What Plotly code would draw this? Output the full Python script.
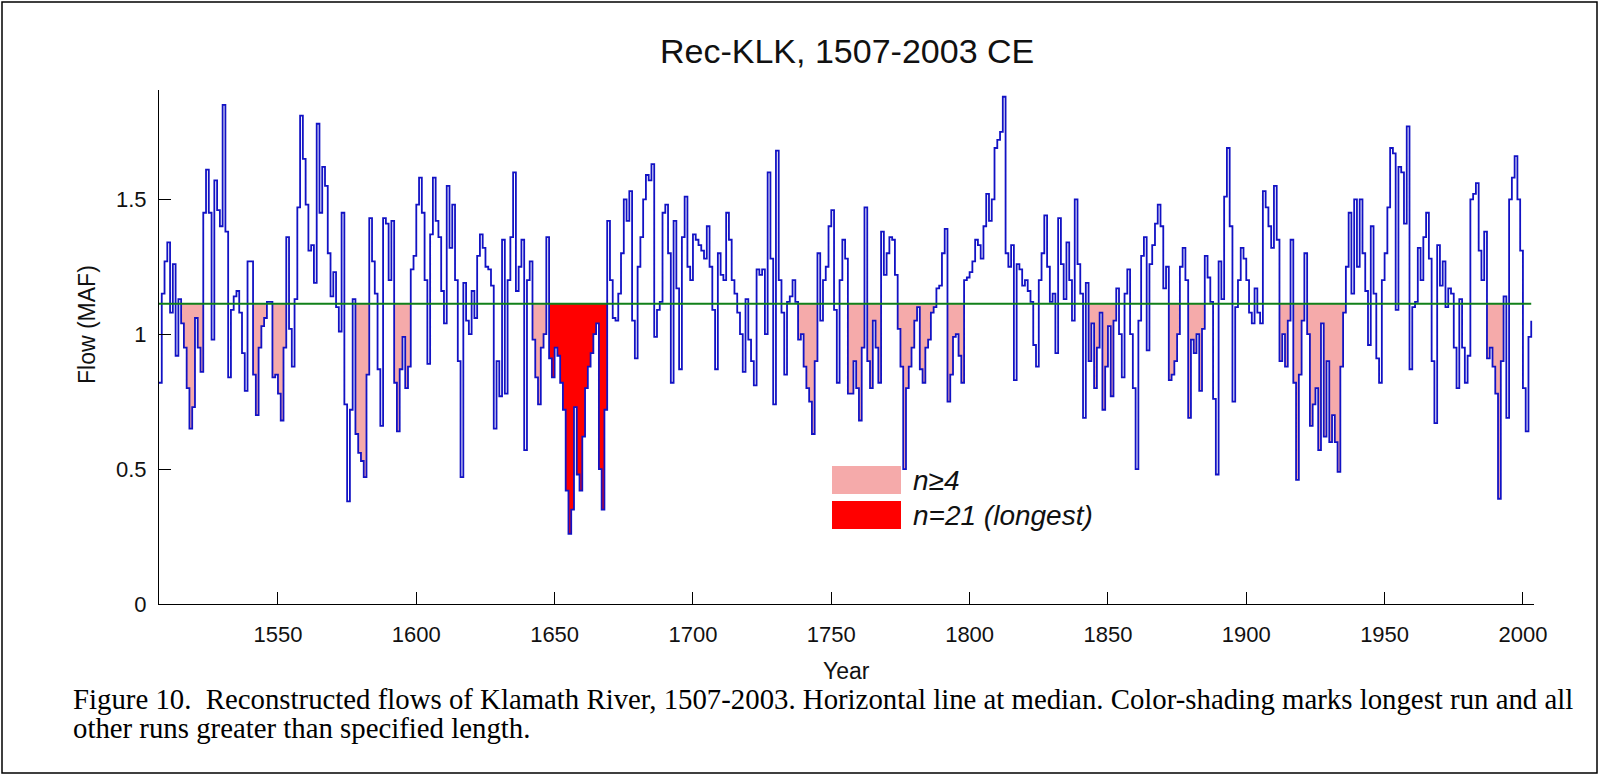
import plotly.graph_objects as go

FIRST_YEAR = 1507
FLOW = [
    # 1507-1509
    0.82, 1.15, 1.27,
    # 1510s
    1.34, 1.08, 1.26, 0.92, 1.13, 1.04, 0.95, 0.80, 0.65, 0.73,
    # 1520s
    1.06, 0.95, 0.86, 1.45, 1.61, 1.45, 0.98, 1.57, 1.46, 1.40,
    # 1530s
    1.85, 1.38, 0.84, 1.09, 1.14, 1.16, 1.08, 0.93, 0.79, 1.27,
    # 1540s
    1.27, 0.85, 0.70, 0.95, 1.03, 1.06, 1.12, 1.12, 0.84, 0.85,
    # 1550s
    0.78, 0.68, 0.95, 1.36, 1.02, 0.88, 1.13, 1.47, 1.81, 1.65,
    # 1560s
    1.48, 1.31, 1.33, 1.19, 1.78, 1.45, 1.62, 1.55, 1.30, 1.14,
    # 1570s
    1.23, 1.10, 1.01, 1.45, 0.74, 0.38, 0.72, 1.13, 0.63, 0.56,
    # 1580s
    0.53, 0.47, 0.85, 1.43, 1.27, 1.15, 0.87, 0.66, 1.43, 1.41,
    # 1590s
    1.20, 1.42, 0.82, 0.64, 0.87, 0.99, 0.80, 0.88, 1.24, 1.29,
    # 1600s
    1.48, 1.58, 1.45, 1.20, 0.89, 1.37, 1.58, 1.42, 1.36, 1.16,
    # 1610s
    1.04, 1.55, 1.32, 1.48, 1.20, 0.90, 0.47, 1.19, 1.05, 1.00,
    # 1620s
    1.16, 1.06, 1.29, 1.37, 1.32, 1.25, 1.24, 1.18, 0.65, 0.90,
    # 1630s
    0.77, 1.35, 0.78, 1.20, 1.36, 1.60, 1.16, 1.25, 1.35, 0.57,
    # 1640s
    1.20, 1.27, 0.98, 0.84, 0.74, 0.95, 1.00, 1.36, 0.91, 0.84,
    # 1650s
    0.95, 0.92, 0.82, 0.72, 0.42, 0.26, 0.35, 0.73, 0.48, 0.42,
    # 1660s
    0.62, 0.80, 0.88, 0.93, 1.00, 1.04, 0.50, 0.35, 0.72, 1.42,
    # 1670s
    1.20, 1.06, 1.05, 1.15, 1.30, 1.50, 1.42, 1.53, 1.05, 0.91,
    # 1680s
    1.25, 1.36, 1.50, 1.59, 1.57, 1.63, 0.99, 1.09, 1.12, 1.45,
    # 1690s
    1.48, 1.30, 0.82, 1.42, 1.17, 0.87, 1.36, 1.51, 1.25, 1.20,
    # 1700s
    1.37, 1.35, 1.33, 1.31, 1.28, 1.40, 1.25, 1.09, 0.87, 1.30,
    # 1710s
    1.22, 1.20, 1.45, 1.35, 1.20, 1.15, 1.08, 1.00, 0.86, 1.13,
    # 1720s
    0.98, 0.90, 0.81, 1.24, 1.22, 1.24, 1.00, 1.60, 1.28, 0.74,
    # 1730s
    1.68, 1.20, 1.08, 0.85, 1.12, 1.14, 1.20, 1.12, 0.98, 1.00,
    # 1740s
    0.88, 0.80, 0.75, 0.63, 0.90, 1.30, 1.05, 1.20, 1.25, 1.40,
    # 1750s
    1.46, 1.09, 0.82, 1.20, 1.35, 1.28, 0.78, 0.78, 0.90, 0.80,
    # 1760s
    0.68, 0.95, 1.47, 0.90, 0.80, 1.05, 0.95, 0.82, 1.38, 1.22,
    # 1770s
    1.30, 1.36, 1.35, 1.22, 1.02, 0.88, 0.50, 0.80, 0.88, 0.95,
    # 1780s
    1.05, 1.10, 0.87, 0.82, 0.95, 0.98, 1.08, 1.10, 1.17, 1.18,
    # 1790s
    1.30, 1.39, 0.75, 0.85, 0.99, 1.00, 0.92, 0.82, 1.20, 1.21,
    # 1800s
    1.23, 1.27, 1.35, 1.33, 1.28, 1.40, 1.52, 1.42, 1.50, 1.69,
    # 1810s
    1.72, 1.75, 1.88, 1.30, 1.25, 1.33, 0.83, 1.26, 1.24, 1.18,
    # 1820s
    1.20, 1.16, 1.12, 0.96, 0.88, 1.20, 1.30, 1.44, 1.25, 1.12,
    # 1830s
    1.15, 0.93, 1.43, 1.26, 1.13, 1.34, 1.20, 1.05, 1.50, 1.26,
    # 1840s
    1.15, 0.69, 1.19, 0.90, 1.04, 0.80, 0.95, 1.08, 0.72, 0.88,
    # 1850s
    1.03, 0.77, 1.05, 1.17, 1.00, 0.84, 1.15, 1.24, 1.00, 0.80,
    # 1860s
    0.50, 1.05, 1.29, 1.36, 0.94, 1.26, 1.33, 1.41, 1.48, 1.40,
    # 1870s
    1.17, 1.25, 0.83, 0.85, 0.90, 1.00, 1.25, 1.32, 1.20, 0.69,
    # 1880s
    0.98, 0.93, 1.00, 0.79, 1.02, 1.29, 1.21, 1.12, 0.76, 0.48,
    # 1890s
    1.27, 1.13, 1.51, 1.69, 1.40, 0.75, 1.10, 1.20, 1.32, 1.28,
    # 1900s
    1.20, 1.08, 1.04, 1.17, 1.08, 1.04, 1.53, 1.47, 1.40, 1.32,
    # 1910s
    1.55, 1.35, 0.90, 1.00, 0.88, 1.05, 1.35, 0.82, 0.46, 0.85,
    # 1920s
    1.05, 1.30, 1.00, 0.66, 0.74, 0.80, 0.57, 1.04, 0.62, 0.90,
    # 1930s
    0.60, 0.70, 0.60, 0.49, 0.88, 1.08, 1.25, 1.45, 1.15, 1.50,
    # 1940s
    1.25, 1.50, 1.30, 1.16, 0.96, 1.40, 1.15, 0.91, 0.82, 1.20,
    # 1950s
    1.30, 1.47, 1.69, 1.67, 1.09, 1.62, 1.60, 1.41, 1.77, 0.87,
    # 1960s
    1.10, 1.12, 1.32, 1.20, 1.36, 1.45, 1.28, 0.90, 0.67, 1.33,
    # 1970s
    1.18, 1.27, 1.10, 1.17, 1.15, 0.95, 0.80, 1.13, 0.95, 0.82,
    # 1980s
    0.92, 1.50, 1.52, 1.56, 1.31, 1.20, 1.38, 0.91, 0.95, 0.88,
    # 1990s
    0.78, 0.39, 0.90, 1.14, 0.69, 1.50, 1.58, 1.66, 1.50, 1.31,
    # 2000s
    0.80, 0.64, 0.99, 1.05,
]
YEARS = list(range(FIRST_YEAR, FIRST_YEAR + len(FLOW)))
assert YEARS[-1] == 2003, YEARS[-1]

MEDIAN = 1.113

# runs below the median (>= 4 years) and the longest run
RUN_START = [1515, 1541, 1548, 1578, 1592, 1642, 1738, 1756, 1763, 1774,
             1792, 1843, 1872, 1879, 1912, 1917, 1922, 1987]
RUN_END = [1522, 1545, 1552, 1582, 1597, 1646, 1744, 1761, 1767, 1787,
           1797, 1852, 1875, 1884, 1915, 1920, 1935, 1992]
LONGEST_START, LONGEST_END = 1648, 1668

X_TICKS = [1550, 1600, 1650, 1700, 1750, 1800, 1850, 1900, 1950, 2000]
Y_TICKS = [0, 0.5, 1, 1.5]
Y_TICK_TEXT = ["0", "0.5", "1", "1.5"]

PINK = "#F5AAAA"
RED = "#FF0000"
BLUE = "#1212C4"
GREEN = "#11801A"

fig = go.Figure()


def run_polygon(s, e):
    xs, ys = [s], [MEDIAN]
    for t in range(s, e + 1):
        v = FLOW[t - FIRST_YEAR]
        xs += [t, t + 1]
        ys += [v, v]
    xs += [e + 1, s]
    ys += [MEDIAN, MEDIAN]
    return xs, ys


for s, e in zip(RUN_START, RUN_END):
    xs, ys = run_polygon(s, e)
    fig.add_trace(go.Scatter(x=xs, y=ys, mode="lines", fill="toself",
                             fillcolor=PINK, line=dict(width=0),
                             hoverinfo="skip", showlegend=False))
xs, ys = run_polygon(LONGEST_START, LONGEST_END)
fig.add_trace(go.Scatter(x=xs, y=ys, mode="lines", fill="toself",
                         fillcolor=RED, line=dict(width=0),
                         hoverinfo="skip", showlegend=False))

fig.add_trace(go.Scatter(x=YEARS, y=FLOW, mode="lines", line_shape="hv",
                         line=dict(color=BLUE, width=1.8), showlegend=False))
fig.add_trace(go.Scatter(x=[YEARS[0], YEARS[-1]], y=[MEDIAN, MEDIAN],
                         mode="lines", line=dict(color=GREEN, width=2),
                         showlegend=False))

# geometry (pixels)
W, H = 1600, 776
L, R, T, B = 159, 1534, 90, 604
pw, ph = R - L, B - T


def px(fx):
    return (fx - L) / pw


def py(fy):
    return (B - fy) / ph


SANS = "Liberation Sans, Arial, sans-serif"
AX_FONT = dict(family=SANS, size=22, color="#111")

fig.update_layout(
    width=W, height=H,
    margin=dict(l=L, r=W - R, t=T, b=H - B),
    paper_bgcolor="white", plot_bgcolor="white",
    showlegend=False,
    xaxis=dict(range=[1507, 2004], tickvals=X_TICKS, ticks="inside",
               ticklen=12, tickwidth=1, tickcolor="black", showline=True,
               linecolor="black", linewidth=1, showgrid=False, zeroline=False,
               tickfont=AX_FONT, ticklabelstandoff=11),
    yaxis=dict(range=[0, 1.905], tickvals=Y_TICKS, ticktext=Y_TICK_TEXT,
               ticks="inside", ticklen=12, tickwidth=1, tickcolor="black",
               showline=True, linecolor="black", linewidth=1, showgrid=False,
               zeroline=False, tickfont=AX_FONT, ticklabelstandoff=7),
)

ann = []
ann.append(dict(text="Rec-KLK, 1507-2003 CE", x=0.5, y=py(51), xref="paper",
                yref="paper", showarrow=False, xanchor="center", yanchor="middle",
                font=dict(family=SANS, size=34, color="#111")))
ann.append(dict(text="Year", x=0.5, y=py(671), xref="paper", yref="paper",
                showarrow=False, xanchor="center", yanchor="middle",
                font=dict(family=SANS, size=23, color="#111")))
ann.append(dict(text="Flow (MAF)", x=px(87), y=py(325), xref="paper", yref="paper",
                showarrow=False, xanchor="center", yanchor="middle", textangle=-90,
                font=dict(family=SANS, size=23, color="#111")))
ann.append(dict(text="<i>n≥4</i>", x=px(911), y=py(480), xref="paper",
                yref="paper", showarrow=False, xanchor="left", yanchor="middle",
                font=dict(family=SANS, size=28, color="#111")))
ann.append(dict(text="<i>n=21 (longest)</i>", x=px(911), y=py(515), xref="paper",
                yref="paper", showarrow=False, xanchor="left", yanchor="middle",
                font=dict(family=SANS, size=28, color="#111")))
CAP_FONT = dict(family="Liberation Serif, Times New Roman, serif", size=28.8, color="black")
ann.append(dict(text="Figure 10.  Reconstructed flows of Klamath River, 1507-2003. Horizontal line at median. "
                     "Color-shading marks longest run and all",
                x=px(71), y=py(699), xref="paper", yref="paper", showarrow=False,
                xanchor="left", yanchor="middle", font=CAP_FONT))
ann.append(dict(text="other runs greater than specified length.",
                x=px(71), y=py(728), xref="paper", yref="paper", showarrow=False,
                xanchor="left", yanchor="middle", font=CAP_FONT))
fig.update_layout(annotations=ann)

shapes = [
    dict(type="rect", xref="paper", yref="paper", x0=px(832), x1=px(901),
         y0=py(494), y1=py(466), fillcolor=PINK, line=dict(width=0)),
    dict(type="rect", xref="paper", yref="paper", x0=px(832), x1=px(901),
         y0=py(529), y1=py(501), fillcolor=RED, line=dict(width=0)),
    dict(type="rect", xref="paper", yref="paper", x0=px(2), x1=px(1597),
         y0=py(773), y1=py(2), line=dict(color="black", width=1.5)),
]
fig.update_layout(shapes=shapes)

fig.write_html("out.html")
